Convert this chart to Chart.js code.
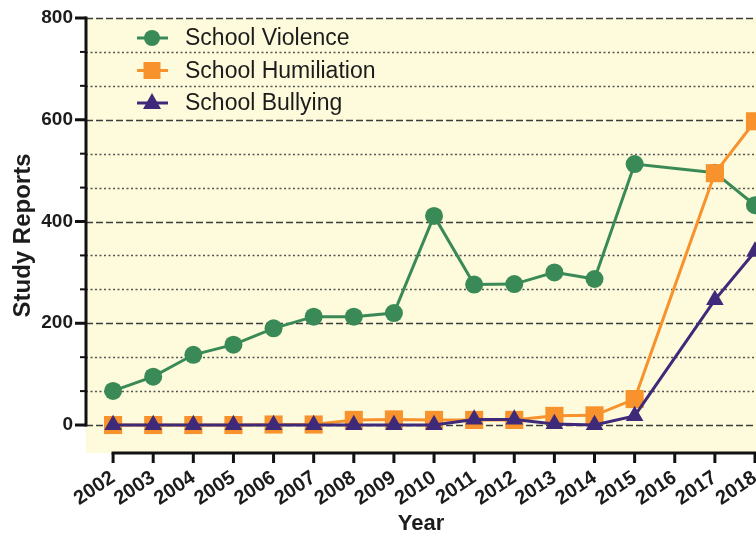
<!DOCTYPE html>
<html>
<head>
<meta charset="utf-8">
<script src="https://cdn.jsdelivr.net/npm/chart.js@4/dist/chart.umd.min.js"></script>
<style>
  html, body { margin: 0; padding: 0; background: #fff; }
  #wrap { width: 756px; height: 534px; }
</style>
</head>
<body>
<div id="wrap"><canvas id="studyChart" width="756" height="534"></canvas></div>
<script>
// data
const years = [2002, 2003, 2004, 2005, 2006, 2007, 2008, 2009, 2010, 2011, 2012, 2013, 2014, 2015, 2016, 2017, 2018];
const violence    = [67, 95, 138, 158, 190, 213, 213, 220, 411, 276, 277, 300, 287, 513, null, 496, 432];
const humiliation = [0, 0, 0, 0, 1, 1, 10, 11, 10, 10, 10, 18, 19, 51, null, 495, 597];
const bullying    = [0, 0, 0, 0, 0, 0, 0, 0, 0, 11, 11, 2, 0, 18, null, 246, 341];
const yLabels = [0, 200, 400, 600, 800];
const yMinorSteps = 3;

const seriesNames = ['School Violence', 'School Humiliation', 'School Bullying'];
const seriesColors = ['#398a56', '#f7922d', '#3f2a7a'];

const FONT = "'Liberation Sans', Arial, Helvetica, sans-serif";
const INK = '#1c1c1c';

function toPoints(values) {
    return years.map((yr, i) => ({ x: yr, y: values[i] }));
}

function yTickValues() {
    const out = [];
    for (let i = 0; i < yLabels.length - 1; i++) {
        const step = (yLabels[i + 1] - yLabels[i]) / yMinorSteps;
        for (let k = 0; k < yMinorSteps; k++) out.push(yLabels[i] + k * step);
    }
    out.push(yLabels[yLabels.length - 1]);
    return out;
}

function isMajor(v) {
    return yLabels.some(l => Math.abs(l - v) < 1e-6);
}

// background, grid lines and the offset axes
const framePlugin = {
    id: 'frame',
    beforeDatasetsDraw(chart) {
        const { ctx, chartArea } = chart;
        const xs = chart.scales.x, ys = chart.scales.y;
        ctx.save();
        ctx.fillStyle = '#fdfbdc';
        ctx.fillRect(chartArea.left, chartArea.top, chartArea.right - chartArea.left, chartArea.bottom - chartArea.top);

        yTickValues().forEach(v => {
            const y = Math.round(ys.getPixelForValue(v)) + 0.5;
            const major = isMajor(v);
            ctx.beginPath();
            ctx.setLineDash(major ? [7, 3] : [2, 2.5]);
            ctx.lineWidth = major ? 1.7 : 1.4;
            ctx.strokeStyle = major ? '#3c3c3c' : '#555';
            ctx.moveTo(chartArea.left, y);
            ctx.lineTo(chartArea.right, y);
            ctx.stroke();
        });
        ctx.setLineDash([]);

        // y axis
        const left = chartArea.left;
        ctx.strokeStyle = '#111';
        ctx.lineWidth = 3;
        ctx.beginPath();
        ctx.moveTo(left, ys.getPixelForValue(yLabels[yLabels.length - 1]) - 1.5);
        ctx.lineTo(left, ys.getPixelForValue(yLabels[0]) + 1.5);
        ctx.stroke();
        yTickValues().forEach(v => {
            const y = ys.getPixelForValue(v);
            const major = isMajor(v);
            ctx.lineWidth = major ? 3 : 2;
            ctx.beginPath();
            ctx.moveTo(left - (major ? 11 : 6), y);
            ctx.lineTo(left, y);
            ctx.stroke();
        });

        // x axis, starting at the first year
        const base = chartArea.bottom;
        ctx.lineWidth = 3;
        ctx.beginPath();
        ctx.moveTo(xs.getPixelForValue(years[0]) - 1.5, base);
        ctx.lineTo(chartArea.right, base);
        ctx.stroke();
        years.forEach(yr => {
            const x = xs.getPixelForValue(yr);
            ctx.beginPath();
            ctx.moveTo(x, base);
            ctx.lineTo(x, base + 10);
            ctx.stroke();
        });
        ctx.restore();
    }
};

// legend inside the plot, top left
const legendPlugin = {
    id: 'insideLegend',
    afterDatasetsDraw(chart) {
        const { ctx, chartArea } = chart;
        const shapes = ['circle', 'square', 'triangle'];
        ctx.save();
        seriesNames.forEach((name, i) => {
            const cy = chartArea.top + 20 + i * 32.5;
            const cx = chartArea.left + 66;
            ctx.strokeStyle = seriesColors[i];
            ctx.fillStyle = seriesColors[i];
            ctx.lineWidth = 3;
            ctx.beginPath();
            ctx.moveTo(cx - 15, cy);
            ctx.lineTo(cx + 16, cy);
            ctx.stroke();
            ctx.beginPath();
            if (shapes[i] === 'circle') {
                ctx.arc(cx, cy, 8, 0, Math.PI * 2);
            } else if (shapes[i] === 'square') {
                ctx.rect(cx - 8.5, cy - 8.5, 17, 17);
            } else {
                ctx.moveTo(cx, cy - 10);
                ctx.lineTo(cx + 9, cy + 6);
                ctx.lineTo(cx - 9, cy + 6);
                ctx.closePath();
            }
            ctx.fill();
            ctx.fillStyle = INK;
            ctx.font = '23px ' + FONT;
            ctx.textBaseline = 'middle';
            ctx.fillText(name, chartArea.left + 99, cy + 1);
        });
        ctx.restore();
    }
};

function makeDataset(i, values, style, radius, order) {
    return {
        label: seriesNames[i],
        data: toPoints(values),
        borderColor: seriesColors[i],
        backgroundColor: seriesColors[i],
        pointBackgroundColor: seriesColors[i],
        pointBorderColor: seriesColors[i],
        pointBorderWidth: 0,
        borderWidth: 3,
        pointStyle: style,
        pointRadius: radius,
        spanGaps: true,
        tension: 0,
        clip: false,
        order: order
    };
}

new Chart(document.getElementById('studyChart'), {
    type: 'line',
    data: {
        datasets: [
            makeDataset(0, violence, 'circle', 9, 3),
            makeDataset(1, humiliation, 'rect', 12.8, 2),
            makeDataset(2, bullying, 'triangle', 10.2, 1)
        ]
    },
    options: {
        responsive: false,
        animation: false,
        layout: { autoPadding: false, padding: { top: 18, left: 0, right: 0, bottom: 0 } },
        plugins: {
            legend: { display: false },
            tooltip: { enabled: false }
        },
        scales: {
            x: {
                type: 'linear',
                min: years[0] - 0.675,
                max: years[years.length - 1] + 0.025,
                grid: { display: false },
                border: { display: false },
                afterBuildTicks: s => { s.ticks = years.map(v => ({ value: v })); },
                afterFit: s => { s.height = 81; s.paddingLeft = 0; s.paddingRight = 0; },
                ticks: {
                    autoSkip: false,
                    minRotation: 34,
                    maxRotation: 34,
                    padding: 5,
                    color: INK,
                    font: { family: FONT, size: 20, weight: 'bold' },
                    callback: v => String(v)
                },
                title: {
                    display: true,
                    text: 'Year',
                    color: INK,
                    font: { family: FONT, size: 22, weight: 'bold' },
                    padding: { top: 0, bottom: -3 }
                }
            },
            y: {
                min: -55,
                max: 800,
                grid: { display: false },
                border: { display: false },
                afterBuildTicks: s => { s.ticks = yTickValues().map(v => ({ value: v })); },
                afterFit: s => { s.width = 86; s.paddingTop = 0; s.paddingBottom = 0; },
                ticks: {
                    padding: 5,
                    color: INK,
                    font: { family: FONT, size: 19, weight: 'bold' },
                    callback: v => isMajor(v) ? String(Math.round(v)) : ''
                },
                title: {
                    display: true,
                    text: 'Study Reports',
                    color: INK,
                    font: { family: FONT, size: 24, weight: 'bold' },
                    padding: { top: 9, bottom: 0 }
                }
            }
        }
    },
    plugins: [framePlugin, legendPlugin]
});
</script>
</body>
</html>
